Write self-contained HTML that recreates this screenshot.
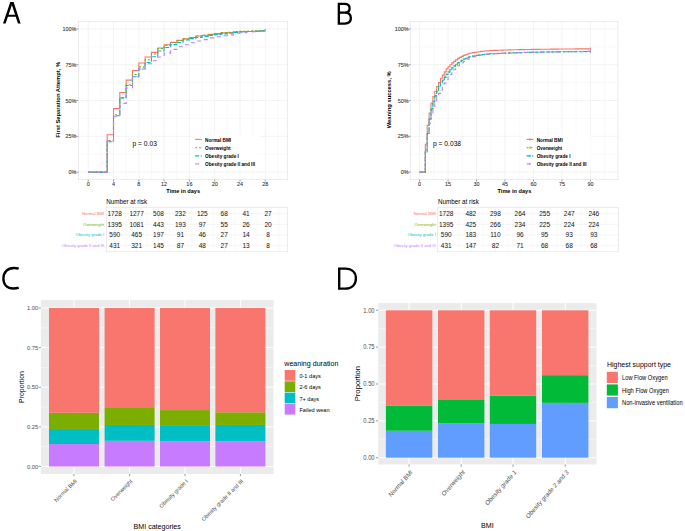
<!DOCTYPE html>
<html><head><meta charset="utf-8"><style>html,body{margin:0;padding:0;background:#fff;width:685px;height:531px;overflow:hidden;font-family:"Liberation Sans",sans-serif}</style></head><body>
<svg width="685" height="531" viewBox="0 0 685 531" style="position:absolute;left:0;top:0" font-family='"Liberation Sans", sans-serif'>
<rect x="0.00" y="0.00" width="685.00" height="531.00" fill="#fff" />
<path d="M3.00,23.6 L10.30,2.0 L13.60,2.0 L20.60,23.6 L17.95,23.6 L15.75,16.8 L7.90,16.8 L5.60,23.6 Z M8.61,14.7 L15.07,14.7 L11.90,4.95 Z" fill="#000" fill-rule="evenodd"/>
<g fill="none" stroke="#000" stroke-width="2.35" stroke-linejoin="miter">
<path d="M338.85,12.6 L338.85,3.85 L344.6,3.85 C347.9,3.85 349.6,5.6 349.6,8.2 C349.6,10.8 347.8,12.6 344.8,12.6 L338.85,12.6 M344.8,12.6 C348.8,12.6 350.85,14.9 350.85,18 C350.85,21.4 348.6,23.55 344.8,23.55 L338.85,23.55 L338.85,12.6"/>
<path d="M18.7,268.7 C17.3,268.1 15.6,267.95 13.7,267.95 C7.7,267.95 3.4,272.3 3.4,278.4 C3.4,284.7 7.3,288.5 13.3,288.5 C15.3,288.5 17.3,288.2 18.7,287.6"/>
<path d="M339.2,278.6 L339.2,268.6 L345.3,268.6 C351.9,268.6 355.9,272.4 355.9,278.4 C355.9,284.6 351.8,288.6 345.1,288.6 L339.2,288.6 L339.2,278.6"/>
</g>
<rect x="78.30" y="21.30" width="209.40" height="158.40" fill="#fff" />
<line x1="100.85" y1="21.30" x2="100.85" y2="179.70" stroke="#F2F2F2" stroke-width="0.5" />
<line x1="126.15" y1="21.30" x2="126.15" y2="179.70" stroke="#F2F2F2" stroke-width="0.5" />
<line x1="151.45" y1="21.30" x2="151.45" y2="179.70" stroke="#F2F2F2" stroke-width="0.5" />
<line x1="176.75" y1="21.30" x2="176.75" y2="179.70" stroke="#F2F2F2" stroke-width="0.5" />
<line x1="202.05" y1="21.30" x2="202.05" y2="179.70" stroke="#F2F2F2" stroke-width="0.5" />
<line x1="227.35" y1="21.30" x2="227.35" y2="179.70" stroke="#F2F2F2" stroke-width="0.5" />
<line x1="252.65" y1="21.30" x2="252.65" y2="179.70" stroke="#F2F2F2" stroke-width="0.5" />
<line x1="277.95" y1="21.30" x2="277.95" y2="179.70" stroke="#F2F2F2" stroke-width="0.5" />
<line x1="78.30" y1="154.20" x2="287.70" y2="154.20" stroke="#F2F2F2" stroke-width="0.5" />
<line x1="78.30" y1="118.40" x2="287.70" y2="118.40" stroke="#F2F2F2" stroke-width="0.5" />
<line x1="78.30" y1="82.60" x2="287.70" y2="82.60" stroke="#F2F2F2" stroke-width="0.5" />
<line x1="78.30" y1="46.80" x2="287.70" y2="46.80" stroke="#F2F2F2" stroke-width="0.5" />
<line x1="88.20" y1="21.30" x2="88.20" y2="179.70" stroke="#EBEBEB" stroke-width="0.6" />
<line x1="113.50" y1="21.30" x2="113.50" y2="179.70" stroke="#EBEBEB" stroke-width="0.6" />
<line x1="138.80" y1="21.30" x2="138.80" y2="179.70" stroke="#EBEBEB" stroke-width="0.6" />
<line x1="164.10" y1="21.30" x2="164.10" y2="179.70" stroke="#EBEBEB" stroke-width="0.6" />
<line x1="189.40" y1="21.30" x2="189.40" y2="179.70" stroke="#EBEBEB" stroke-width="0.6" />
<line x1="214.70" y1="21.30" x2="214.70" y2="179.70" stroke="#EBEBEB" stroke-width="0.6" />
<line x1="240.00" y1="21.30" x2="240.00" y2="179.70" stroke="#EBEBEB" stroke-width="0.6" />
<line x1="265.30" y1="21.30" x2="265.30" y2="179.70" stroke="#EBEBEB" stroke-width="0.6" />
<line x1="78.30" y1="172.10" x2="287.70" y2="172.10" stroke="#EBEBEB" stroke-width="0.6" />
<line x1="78.30" y1="136.30" x2="287.70" y2="136.30" stroke="#EBEBEB" stroke-width="0.6" />
<line x1="78.30" y1="100.50" x2="287.70" y2="100.50" stroke="#EBEBEB" stroke-width="0.6" />
<line x1="78.30" y1="64.70" x2="287.70" y2="64.70" stroke="#EBEBEB" stroke-width="0.6" />
<line x1="78.30" y1="28.90" x2="287.70" y2="28.90" stroke="#EBEBEB" stroke-width="0.6" />
<rect x="78.30" y="21.30" width="209.40" height="158.40" fill="none" stroke="#E0E0E0" stroke-width="0.6"/>
<line x1="76.50" y1="172.10" x2="78.30" y2="172.10" stroke="#333" stroke-width="0.5" />
<text transform="translate(76.40,172.10) scale(1,1.05)" y="1.95" font-size="5.45" text-anchor="end" font-weight="normal" fill="#2A2A2A" stroke="#3A3A3A" stroke-width="0.08">0%</text>
<line x1="76.50" y1="136.30" x2="78.30" y2="136.30" stroke="#333" stroke-width="0.5" />
<text transform="translate(76.40,136.30) scale(1,1.05)" y="1.95" font-size="5.45" text-anchor="end" font-weight="normal" fill="#2A2A2A" stroke="#3A3A3A" stroke-width="0.08">25%</text>
<line x1="76.50" y1="100.50" x2="78.30" y2="100.50" stroke="#333" stroke-width="0.5" />
<text transform="translate(76.40,100.50) scale(1,1.05)" y="1.95" font-size="5.45" text-anchor="end" font-weight="normal" fill="#2A2A2A" stroke="#3A3A3A" stroke-width="0.08">50%</text>
<line x1="76.50" y1="64.70" x2="78.30" y2="64.70" stroke="#333" stroke-width="0.5" />
<text transform="translate(76.40,64.70) scale(1,1.05)" y="1.95" font-size="5.45" text-anchor="end" font-weight="normal" fill="#2A2A2A" stroke="#3A3A3A" stroke-width="0.08">75%</text>
<line x1="76.50" y1="28.90" x2="78.30" y2="28.90" stroke="#333" stroke-width="0.5" />
<text transform="translate(76.40,28.90) scale(1,1.05)" y="1.95" font-size="5.45" text-anchor="end" font-weight="normal" fill="#2A2A2A" stroke="#3A3A3A" stroke-width="0.08">100%</text>
<line x1="88.20" y1="179.70" x2="88.20" y2="181.50" stroke="#333" stroke-width="0.5" />
<text transform="translate(88.20,184.40) scale(1,1.05)" y="1.95" font-size="5.45" text-anchor="middle" font-weight="normal" fill="#2A2A2A" stroke="#3A3A3A" stroke-width="0.08">0</text>
<line x1="113.50" y1="179.70" x2="113.50" y2="181.50" stroke="#333" stroke-width="0.5" />
<text transform="translate(113.50,184.40) scale(1,1.05)" y="1.95" font-size="5.45" text-anchor="middle" font-weight="normal" fill="#2A2A2A" stroke="#3A3A3A" stroke-width="0.08">4</text>
<line x1="138.80" y1="179.70" x2="138.80" y2="181.50" stroke="#333" stroke-width="0.5" />
<text transform="translate(138.80,184.40) scale(1,1.05)" y="1.95" font-size="5.45" text-anchor="middle" font-weight="normal" fill="#2A2A2A" stroke="#3A3A3A" stroke-width="0.08">8</text>
<line x1="164.10" y1="179.70" x2="164.10" y2="181.50" stroke="#333" stroke-width="0.5" />
<text transform="translate(164.10,184.40) scale(1,1.05)" y="1.95" font-size="5.45" text-anchor="middle" font-weight="normal" fill="#2A2A2A" stroke="#3A3A3A" stroke-width="0.08">12</text>
<line x1="189.40" y1="179.70" x2="189.40" y2="181.50" stroke="#333" stroke-width="0.5" />
<text transform="translate(189.40,184.40) scale(1,1.05)" y="1.95" font-size="5.45" text-anchor="middle" font-weight="normal" fill="#2A2A2A" stroke="#3A3A3A" stroke-width="0.08">16</text>
<line x1="214.70" y1="179.70" x2="214.70" y2="181.50" stroke="#333" stroke-width="0.5" />
<text transform="translate(214.70,184.40) scale(1,1.05)" y="1.95" font-size="5.45" text-anchor="middle" font-weight="normal" fill="#2A2A2A" stroke="#3A3A3A" stroke-width="0.08">20</text>
<line x1="240.00" y1="179.70" x2="240.00" y2="181.50" stroke="#333" stroke-width="0.5" />
<text transform="translate(240.00,184.40) scale(1,1.05)" y="1.95" font-size="5.45" text-anchor="middle" font-weight="normal" fill="#2A2A2A" stroke="#3A3A3A" stroke-width="0.08">24</text>
<line x1="265.30" y1="179.70" x2="265.30" y2="181.50" stroke="#333" stroke-width="0.5" />
<text transform="translate(265.30,184.40) scale(1,1.05)" y="1.95" font-size="5.45" text-anchor="middle" font-weight="normal" fill="#2A2A2A" stroke="#3A3A3A" stroke-width="0.08">28</text>
<path d="M88.20,172.10 L107.18,172.10 L107.18,134.72 L113.50,134.72 L113.50,108.66 L119.83,108.66 L119.83,92.48 L126.15,92.48 L126.15,80.17 L132.47,80.17 L132.47,70.57 L138.80,70.57 L138.80,62.98 L145.12,62.98 L145.12,56.97 L151.45,56.97 L151.45,52.38 L157.78,52.38 L157.78,47.95 L164.10,47.95 L164.10,44.80 L170.43,44.80 L170.43,42.36 L176.75,42.36 L176.75,40.36 L183.07,40.36 L183.07,38.92 L189.40,38.92 L189.40,37.49 L195.73,37.49 L195.73,36.06 L202.05,36.06 L202.05,35.20 L208.38,35.20 L208.38,34.34 L214.70,34.34 L214.70,33.63 L221.03,33.63 L221.03,32.91 L227.35,32.91 L227.35,32.48 L233.68,32.48 L233.68,32.05 L240.00,32.05 L240.00,31.76 L246.32,31.76 L246.32,31.48 L252.65,31.48 L252.65,31.19 L258.98,31.19 L258.98,30.90 L265.30,30.90 L265.30,30.33" fill="none" stroke="#F8766D" stroke-width="1.1" />
<path d="M88.20,172.10 L107.18,172.10 L107.18,140.60 L113.50,140.60 L113.50,114.82 L119.83,114.82 L119.83,97.64 L126.15,97.64 L126.15,84.75 L132.47,84.75 L132.47,74.44 L138.80,74.44 L138.80,66.85 L145.12,66.85 L145.12,59.69 L151.45,59.69 L151.45,53.96 L157.78,53.96 L157.78,48.66 L164.10,48.66 L164.10,45.37 L170.43,45.37 L170.43,42.79 L176.75,42.79 L176.75,40.79 L183.07,40.79 L183.07,38.92 L189.40,38.92 L189.40,37.49 L195.73,37.49 L195.73,36.06 L202.05,36.06 L202.05,35.20 L208.38,35.20 L208.38,34.48 L214.70,34.48 L214.70,33.63 L221.03,33.63 L221.03,32.91 L227.35,32.91 L227.35,32.34 L233.68,32.34 L233.68,31.62 L240.00,31.62 L240.00,31.33 L246.32,31.33 L246.32,31.05 L252.65,31.05 L252.65,30.90 L258.98,30.90 L258.98,30.76 L265.30,30.76 L265.30,30.33" fill="none" stroke="#7CAE00" stroke-width="1.1" stroke-dasharray="2 2"/>
<path d="M88.20,172.10 L107.18,172.10 L107.18,141.74 L113.50,141.74 L113.50,115.82 L119.83,115.82 L119.83,97.92 L126.15,97.92 L126.15,85.46 L132.47,85.46 L132.47,76.73 L138.80,76.73 L138.80,69.00 L145.12,69.00 L145.12,62.55 L151.45,62.55 L151.45,56.82 L157.78,56.82 L157.78,50.95 L164.10,50.95 L164.10,47.52 L170.43,47.52 L170.43,44.65 L176.75,44.65 L176.75,42.50 L183.07,42.50 L183.07,40.07 L189.40,40.07 L189.40,38.64 L195.73,38.64 L195.73,37.49 L202.05,37.49 L202.05,36.49 L208.38,36.49 L208.38,35.49 L214.70,35.49 L214.70,34.63 L221.03,34.63 L221.03,33.91 L227.35,33.91 L227.35,33.20 L233.68,33.20 L233.68,32.34 L240.00,32.34 L240.00,31.91 L246.32,31.91 L246.32,31.48 L252.65,31.48 L252.65,31.19 L258.98,31.19 L258.98,30.90 L265.30,30.90 L265.30,28.90" fill="none" stroke="#00BFC4" stroke-width="1.1" stroke-dasharray="3.9 1.7"/>
<path d="M88.20,172.10 L107.18,172.10 L107.18,140.60 L113.50,140.60 L113.50,116.68 L119.83,116.68 L119.83,103.36 L126.15,103.36 L126.15,88.04 L132.47,88.04 L132.47,77.02 L138.80,77.02 L138.80,69.00 L145.12,69.00 L145.12,63.70 L151.45,63.70 L151.45,60.69 L157.78,60.69 L157.78,56.97 L164.10,56.97 L164.10,53.10 L170.43,53.10 L170.43,49.38 L176.75,49.38 L176.75,46.80 L183.07,46.80 L183.07,44.80 L189.40,44.80 L189.40,42.79 L195.73,42.79 L195.73,41.07 L202.05,41.07 L202.05,39.64 L208.38,39.64 L208.38,37.92 L214.70,37.92 L214.70,36.78 L221.03,36.78 L221.03,35.77 L227.35,35.77 L227.35,34.91 L233.68,34.91 L233.68,33.20 L240.00,33.20 L240.00,32.62 L246.32,32.62 L246.32,32.05 L252.65,32.05 L252.65,31.62 L258.98,31.62 L258.98,31.33 L265.30,31.33 L265.30,29.62" fill="none" stroke="#C77CFF" stroke-width="1.1" stroke-dasharray="4 4"/>
<rect x="191.50" y="135.00" width="67.00" height="33.50" fill="#fff" />
<line x1="195.10" y1="139.40" x2="201.80" y2="139.40" stroke="#F8766D" stroke-width="1.1" />
<text transform="translate(205.10,139.80) scale(1,1.05)" y="1.68" font-size="4.7" text-anchor="start" font-weight="bold" fill="#000" >Normal BMI</text>
<line x1="195.10" y1="147.70" x2="201.80" y2="147.70" stroke="#7CAE00" stroke-width="1.1" stroke-dasharray="2 2"/>
<text transform="translate(205.10,147.80) scale(1,1.05)" y="1.68" font-size="4.7" text-anchor="start" font-weight="bold" fill="#000" >Overweight</text>
<line x1="195.10" y1="155.90" x2="201.80" y2="155.90" stroke="#00BFC4" stroke-width="1.1" stroke-dasharray="3.9 1.7"/>
<text transform="translate(205.10,155.90) scale(1,1.05)" y="1.68" font-size="4.7" text-anchor="start" font-weight="bold" fill="#000" >Obesity grade I</text>
<line x1="195.10" y1="163.90" x2="201.80" y2="163.90" stroke="#C77CFF" stroke-width="1.1" stroke-dasharray="4 9"/>
<text transform="translate(205.10,163.90) scale(1,1.05)" y="1.68" font-size="4.7" text-anchor="start" font-weight="bold" fill="#000" >Obesity grade II and III</text>
<text transform="translate(132.50,143.90) scale(1,1.05)" y="2.40" font-size="6.7" text-anchor="start" font-weight="normal" fill="#000" >p = 0.03</text>
<text transform="translate(183.20,190.80) scale(1,1.05)" y="2.00" font-size="5.6" text-anchor="middle" font-weight="bold" fill="#000" >Time in days</text>
<text transform="translate(57.5,99.8) rotate(-90)" font-size="5.8" font-weight="bold" text-anchor="middle" y="2.07">First Separation Attempt, %</text>
<rect x="410.50" y="21.30" width="207.50" height="158.40" fill="#fff" />
<line x1="433.84" y1="21.30" x2="433.84" y2="179.70" stroke="#F2F2F2" stroke-width="0.5" />
<line x1="462.31" y1="21.30" x2="462.31" y2="179.70" stroke="#F2F2F2" stroke-width="0.5" />
<line x1="490.78" y1="21.30" x2="490.78" y2="179.70" stroke="#F2F2F2" stroke-width="0.5" />
<line x1="519.25" y1="21.30" x2="519.25" y2="179.70" stroke="#F2F2F2" stroke-width="0.5" />
<line x1="547.72" y1="21.30" x2="547.72" y2="179.70" stroke="#F2F2F2" stroke-width="0.5" />
<line x1="576.18" y1="21.30" x2="576.18" y2="179.70" stroke="#F2F2F2" stroke-width="0.5" />
<line x1="604.65" y1="21.30" x2="604.65" y2="179.70" stroke="#F2F2F2" stroke-width="0.5" />
<line x1="410.50" y1="154.20" x2="618.00" y2="154.20" stroke="#F2F2F2" stroke-width="0.5" />
<line x1="410.50" y1="118.40" x2="618.00" y2="118.40" stroke="#F2F2F2" stroke-width="0.5" />
<line x1="410.50" y1="82.60" x2="618.00" y2="82.60" stroke="#F2F2F2" stroke-width="0.5" />
<line x1="410.50" y1="46.80" x2="618.00" y2="46.80" stroke="#F2F2F2" stroke-width="0.5" />
<line x1="419.60" y1="21.30" x2="419.60" y2="179.70" stroke="#EBEBEB" stroke-width="0.6" />
<line x1="448.07" y1="21.30" x2="448.07" y2="179.70" stroke="#EBEBEB" stroke-width="0.6" />
<line x1="476.54" y1="21.30" x2="476.54" y2="179.70" stroke="#EBEBEB" stroke-width="0.6" />
<line x1="505.01" y1="21.30" x2="505.01" y2="179.70" stroke="#EBEBEB" stroke-width="0.6" />
<line x1="533.48" y1="21.30" x2="533.48" y2="179.70" stroke="#EBEBEB" stroke-width="0.6" />
<line x1="561.95" y1="21.30" x2="561.95" y2="179.70" stroke="#EBEBEB" stroke-width="0.6" />
<line x1="590.42" y1="21.30" x2="590.42" y2="179.70" stroke="#EBEBEB" stroke-width="0.6" />
<line x1="410.50" y1="172.10" x2="618.00" y2="172.10" stroke="#EBEBEB" stroke-width="0.6" />
<line x1="410.50" y1="136.30" x2="618.00" y2="136.30" stroke="#EBEBEB" stroke-width="0.6" />
<line x1="410.50" y1="100.50" x2="618.00" y2="100.50" stroke="#EBEBEB" stroke-width="0.6" />
<line x1="410.50" y1="64.70" x2="618.00" y2="64.70" stroke="#EBEBEB" stroke-width="0.6" />
<line x1="410.50" y1="28.90" x2="618.00" y2="28.90" stroke="#EBEBEB" stroke-width="0.6" />
<rect x="410.50" y="21.30" width="207.50" height="158.40" fill="none" stroke="#E0E0E0" stroke-width="0.6"/>
<line x1="408.70" y1="172.10" x2="410.50" y2="172.10" stroke="#333" stroke-width="0.5" />
<text transform="translate(408.60,172.10) scale(1,1.05)" y="1.95" font-size="5.45" text-anchor="end" font-weight="normal" fill="#2A2A2A" stroke="#3A3A3A" stroke-width="0.08">0%</text>
<line x1="408.70" y1="136.30" x2="410.50" y2="136.30" stroke="#333" stroke-width="0.5" />
<text transform="translate(408.60,136.30) scale(1,1.05)" y="1.95" font-size="5.45" text-anchor="end" font-weight="normal" fill="#2A2A2A" stroke="#3A3A3A" stroke-width="0.08">25%</text>
<line x1="408.70" y1="100.50" x2="410.50" y2="100.50" stroke="#333" stroke-width="0.5" />
<text transform="translate(408.60,100.50) scale(1,1.05)" y="1.95" font-size="5.45" text-anchor="end" font-weight="normal" fill="#2A2A2A" stroke="#3A3A3A" stroke-width="0.08">50%</text>
<line x1="408.70" y1="64.70" x2="410.50" y2="64.70" stroke="#333" stroke-width="0.5" />
<text transform="translate(408.60,64.70) scale(1,1.05)" y="1.95" font-size="5.45" text-anchor="end" font-weight="normal" fill="#2A2A2A" stroke="#3A3A3A" stroke-width="0.08">75%</text>
<line x1="408.70" y1="28.90" x2="410.50" y2="28.90" stroke="#333" stroke-width="0.5" />
<text transform="translate(408.60,28.90) scale(1,1.05)" y="1.95" font-size="5.45" text-anchor="end" font-weight="normal" fill="#2A2A2A" stroke="#3A3A3A" stroke-width="0.08">100%</text>
<line x1="419.60" y1="179.70" x2="419.60" y2="181.50" stroke="#333" stroke-width="0.5" />
<text transform="translate(419.60,184.40) scale(1,1.05)" y="1.95" font-size="5.45" text-anchor="middle" font-weight="normal" fill="#2A2A2A" stroke="#3A3A3A" stroke-width="0.08">0</text>
<line x1="448.07" y1="179.70" x2="448.07" y2="181.50" stroke="#333" stroke-width="0.5" />
<text transform="translate(448.07,184.40) scale(1,1.05)" y="1.95" font-size="5.45" text-anchor="middle" font-weight="normal" fill="#2A2A2A" stroke="#3A3A3A" stroke-width="0.08">15</text>
<line x1="476.54" y1="179.70" x2="476.54" y2="181.50" stroke="#333" stroke-width="0.5" />
<text transform="translate(476.54,184.40) scale(1,1.05)" y="1.95" font-size="5.45" text-anchor="middle" font-weight="normal" fill="#2A2A2A" stroke="#3A3A3A" stroke-width="0.08">30</text>
<line x1="505.01" y1="179.70" x2="505.01" y2="181.50" stroke="#333" stroke-width="0.5" />
<text transform="translate(505.01,184.40) scale(1,1.05)" y="1.95" font-size="5.45" text-anchor="middle" font-weight="normal" fill="#2A2A2A" stroke="#3A3A3A" stroke-width="0.08">45</text>
<line x1="533.48" y1="179.70" x2="533.48" y2="181.50" stroke="#333" stroke-width="0.5" />
<text transform="translate(533.48,184.40) scale(1,1.05)" y="1.95" font-size="5.45" text-anchor="middle" font-weight="normal" fill="#2A2A2A" stroke="#3A3A3A" stroke-width="0.08">60</text>
<line x1="561.95" y1="179.70" x2="561.95" y2="181.50" stroke="#333" stroke-width="0.5" />
<text transform="translate(561.95,184.40) scale(1,1.05)" y="1.95" font-size="5.45" text-anchor="middle" font-weight="normal" fill="#2A2A2A" stroke="#3A3A3A" stroke-width="0.08">75</text>
<line x1="590.42" y1="179.70" x2="590.42" y2="181.50" stroke="#333" stroke-width="0.5" />
<text transform="translate(590.42,184.40) scale(1,1.05)" y="1.95" font-size="5.45" text-anchor="middle" font-weight="normal" fill="#2A2A2A" stroke="#3A3A3A" stroke-width="0.08">90</text>
<path d="M419.60,172.10 L425.29,172.10 L425.29,144.18 L427.19,144.18 L427.19,125.42 L429.09,125.42 L429.09,112.96 L430.99,112.96 L430.99,102.93 L432.89,102.93 L432.89,96.49 L434.78,96.49 L434.78,91.19 L436.68,91.19 L436.68,86.47 L438.58,86.47 L438.58,82.60 L440.48,82.60 L440.48,78.30 L442.38,78.30 L442.38,75.11 L444.27,75.11 L444.27,71.91 L446.17,71.91 L446.17,68.71 L448.07,68.71 L448.07,66.75 L449.97,66.75 L449.97,64.80 L451.87,64.80 L451.87,62.84 L453.76,62.84 L453.76,61.36 L455.66,61.36 L455.66,59.88 L457.56,59.88 L457.56,58.40 L459.46,58.40 L459.46,57.40 L461.36,57.40 L461.36,56.39 L463.25,56.39 L463.25,55.39 L465.15,55.39 L465.15,54.68 L467.05,54.68 L467.05,53.96 L468.95,53.96 L468.95,53.24 L470.85,53.24 L470.85,52.93 L472.74,52.93 L472.74,52.62 L474.64,52.62 L474.64,52.31 L476.54,52.31 L476.54,52.00 L478.44,52.00 L478.44,51.69 L480.34,51.69 L480.34,51.38 L482.23,51.38 L482.23,51.21 L484.13,51.21 L484.13,51.04 L486.03,51.04 L486.03,50.87 L487.93,50.87 L487.93,50.70 L489.83,50.70 L489.83,50.52 L491.72,50.52 L491.72,50.46 L493.62,50.46 L493.62,50.39 L495.52,50.39 L495.52,50.33 L497.42,50.33 L497.42,50.26 L499.32,50.26 L499.32,50.20 L501.21,50.20 L501.21,50.13 L503.11,50.13 L503.11,50.07 L505.01,50.07 L505.01,50.00 L506.91,50.00 L506.91,49.94 L508.81,49.94 L508.81,49.87 L510.70,49.87 L510.70,49.81 L512.60,49.81 L512.60,49.77 L514.50,49.77 L514.50,49.74 L516.40,49.74 L516.40,49.70 L518.30,49.70 L518.30,49.66 L520.19,49.66 L520.19,49.63 L522.09,49.63 L522.09,49.59 L523.99,49.59 L523.99,49.56 L525.89,49.56 L525.89,49.52 L527.79,49.52 L527.79,49.48 L529.68,49.48 L529.68,49.45 L531.58,49.45 L531.58,49.41 L533.48,49.41 L533.48,49.38 L535.38,49.38 L535.38,49.35 L537.28,49.35 L537.28,49.33 L539.17,49.33 L539.17,49.31 L541.07,49.31 L541.07,49.28 L542.97,49.28 L542.97,49.26 L544.87,49.26 L544.87,49.23 L546.77,49.23 L546.77,49.21 L548.66,49.21 L548.66,49.19 L550.56,49.19 L550.56,49.16 L552.46,49.16 L552.46,49.14 L554.36,49.14 L554.36,49.12 L556.26,49.12 L556.26,49.09 L558.15,49.09 L558.15,49.07 L560.05,49.07 L560.05,49.04 L561.95,49.04 L561.95,49.02 L563.85,49.02 L563.85,49.01 L565.75,49.01 L565.75,48.99 L567.64,48.99 L567.64,48.98 L569.54,48.98 L569.54,48.96 L571.44,48.96 L571.44,48.95 L573.34,48.95 L573.34,48.93 L575.24,48.93 L575.24,48.92 L577.13,48.92 L577.13,48.91 L579.03,48.91 L579.03,48.89 L580.93,48.89 L580.93,48.88 L582.83,48.88 L582.83,48.86 L584.73,48.86 L584.73,48.85 L586.62,48.85 L586.62,48.83 L588.52,48.83 L588.52,48.82 L590.42,48.82 L590.42,48.80 L590.42,48.80" fill="none" stroke="#F8766D" stroke-width="1.1" />
<line x1="590.42" y1="47.50" x2="590.42" y2="50.10" stroke="#F8766D" stroke-width="0.9" />
<path d="M419.60,172.10 L425.29,172.10 L425.29,149.90 L427.19,149.90 L427.19,132.00 L429.09,132.00 L429.09,118.40 L430.99,118.40 L430.99,108.38 L432.89,108.38 L432.89,101.22 L434.78,101.22 L434.78,95.49 L436.68,95.49 L436.68,90.48 L438.58,90.48 L438.58,86.18 L440.48,86.18 L440.48,82.60 L442.38,82.60 L442.38,79.74 L444.27,79.74 L444.27,76.87 L446.17,76.87 L446.17,74.01 L448.07,74.01 L448.07,71.86 L449.97,71.86 L449.97,69.71 L451.87,69.71 L451.87,67.56 L453.76,67.56 L453.76,65.89 L455.66,65.89 L455.66,64.22 L457.56,64.22 L457.56,62.55 L459.46,62.55 L459.46,61.36 L461.36,61.36 L461.36,60.17 L463.25,60.17 L463.25,58.97 L465.15,58.97 L465.15,58.21 L467.05,58.21 L467.05,57.44 L468.95,57.44 L468.95,56.68 L470.85,56.68 L470.85,56.35 L472.74,56.35 L472.74,56.01 L474.64,56.01 L474.64,55.68 L476.54,55.68 L476.54,55.34 L478.44,55.34 L478.44,55.01 L480.34,55.01 L480.34,54.68 L482.23,54.68 L482.23,54.48 L484.13,54.48 L484.13,54.28 L486.03,54.28 L486.03,54.07 L487.93,54.07 L487.93,53.87 L489.83,53.87 L489.83,53.67 L491.72,53.67 L491.72,53.60 L493.62,53.60 L493.62,53.52 L495.52,53.52 L495.52,53.44 L497.42,53.44 L497.42,53.36 L499.32,53.36 L499.32,53.28 L501.21,53.28 L501.21,53.20 L503.11,53.20 L503.11,53.13 L505.01,53.13 L505.01,53.05 L506.91,53.05 L506.91,52.97 L508.81,52.97 L508.81,52.89 L510.70,52.89 L510.70,52.81 L512.60,52.81 L512.60,52.75 L514.50,52.75 L514.50,52.70 L516.40,52.70 L516.40,52.64 L518.30,52.64 L518.30,52.58 L520.19,52.58 L520.19,52.52 L522.09,52.52 L522.09,52.46 L523.99,52.46 L523.99,52.40 L525.89,52.40 L525.89,52.34 L527.79,52.34 L527.79,52.28 L529.68,52.28 L529.68,52.22 L531.58,52.22 L531.58,52.16 L533.48,52.16 L533.48,52.10 L535.38,52.10 L535.38,52.07 L537.28,52.07 L537.28,52.04 L539.17,52.04 L539.17,52.01 L541.07,52.01 L541.07,51.98 L542.97,51.98 L542.97,51.96 L544.87,51.96 L544.87,51.93 L546.77,51.93 L546.77,51.90 L548.66,51.90 L548.66,51.87 L550.56,51.87 L550.56,51.84 L552.46,51.84 L552.46,51.81 L554.36,51.81 L554.36,51.78 L556.26,51.78 L556.26,51.75 L558.15,51.75 L558.15,51.73 L560.05,51.73 L560.05,51.70 L561.95,51.70 L561.95,51.67 L563.85,51.67 L563.85,51.65 L565.75,51.65 L565.75,51.63 L567.64,51.63 L567.64,51.61 L569.54,51.61 L569.54,51.59 L571.44,51.59 L571.44,51.57 L573.34,51.57 L573.34,51.55 L575.24,51.55 L575.24,51.54 L577.13,51.54 L577.13,51.52 L579.03,51.52 L579.03,51.50 L580.93,51.50 L580.93,51.48 L582.83,51.48 L582.83,51.46 L584.73,51.46 L584.73,51.44 L586.62,51.44 L586.62,51.42 L588.52,51.42 L588.52,51.40 L590.42,51.40 L590.42,51.38 L590.42,51.38" fill="none" stroke="#7CAE00" stroke-width="1.1" stroke-dasharray="2 2"/>
<line x1="590.42" y1="50.08" x2="590.42" y2="52.68" stroke="#7CAE00" stroke-width="0.9" />
<path d="M419.60,172.10 L425.29,172.10 L425.29,151.34 L427.19,151.34 L427.19,133.44 L429.09,133.44 L429.09,119.12 L430.99,119.12 L430.99,109.09 L432.89,109.09 L432.89,101.93 L434.78,101.93 L434.78,96.20 L436.68,96.20 L436.68,91.19 L438.58,91.19 L438.58,86.90 L440.48,86.90 L440.48,83.32 L442.38,83.32 L442.38,80.36 L444.27,80.36 L444.27,77.40 L446.17,77.40 L446.17,74.44 L448.07,74.44 L448.07,72.29 L449.97,72.29 L449.97,70.14 L451.87,70.14 L451.87,67.99 L453.76,67.99 L453.76,66.28 L455.66,66.28 L455.66,64.56 L457.56,64.56 L457.56,62.84 L459.46,62.84 L459.46,61.65 L461.36,61.65 L461.36,60.45 L463.25,60.45 L463.25,59.26 L465.15,59.26 L465.15,58.45 L467.05,58.45 L467.05,57.64 L468.95,57.64 L468.95,56.82 L470.85,56.82 L470.85,56.49 L472.74,56.49 L472.74,56.16 L474.64,56.16 L474.64,55.82 L476.54,55.82 L476.54,55.49 L478.44,55.49 L478.44,55.15 L480.34,55.15 L480.34,54.82 L482.23,54.82 L482.23,54.62 L484.13,54.62 L484.13,54.42 L486.03,54.42 L486.03,54.22 L487.93,54.22 L487.93,54.02 L489.83,54.02 L489.83,53.82 L491.72,53.82 L491.72,53.74 L493.62,53.74 L493.62,53.66 L495.52,53.66 L495.52,53.58 L497.42,53.58 L497.42,53.50 L499.32,53.50 L499.32,53.43 L501.21,53.43 L501.21,53.35 L503.11,53.35 L503.11,53.27 L505.01,53.27 L505.01,53.19 L506.91,53.19 L506.91,53.11 L508.81,53.11 L508.81,53.04 L510.70,53.04 L510.70,52.96 L512.60,52.96 L512.60,52.90 L514.50,52.90 L514.50,52.84 L516.40,52.84 L516.40,52.78 L518.30,52.78 L518.30,52.72 L520.19,52.72 L520.19,52.66 L522.09,52.66 L522.09,52.60 L523.99,52.60 L523.99,52.54 L525.89,52.54 L525.89,52.48 L527.79,52.48 L527.79,52.42 L529.68,52.42 L529.68,52.36 L531.58,52.36 L531.58,52.30 L533.48,52.30 L533.48,52.24 L535.38,52.24 L535.38,52.21 L537.28,52.21 L537.28,52.18 L539.17,52.18 L539.17,52.16 L541.07,52.16 L541.07,52.13 L542.97,52.13 L542.97,52.10 L544.87,52.10 L544.87,52.07 L546.77,52.07 L546.77,52.04 L548.66,52.04 L548.66,52.01 L550.56,52.01 L550.56,51.98 L552.46,51.98 L552.46,51.96 L554.36,51.96 L554.36,51.93 L556.26,51.93 L556.26,51.90 L558.15,51.90 L558.15,51.87 L560.05,51.87 L560.05,51.84 L561.95,51.84 L561.95,51.81 L563.85,51.81 L563.85,51.79 L565.75,51.79 L565.75,51.77 L567.64,51.77 L567.64,51.75 L569.54,51.75 L569.54,51.74 L571.44,51.74 L571.44,51.72 L573.34,51.72 L573.34,51.70 L575.24,51.70 L575.24,51.68 L577.13,51.68 L577.13,51.66 L579.03,51.66 L579.03,51.64 L580.93,51.64 L580.93,51.62 L582.83,51.62 L582.83,51.60 L584.73,51.60 L584.73,51.58 L586.62,51.58 L586.62,51.56 L588.52,51.56 L588.52,51.54 L590.42,51.54 L590.42,51.53 L590.42,51.53" fill="none" stroke="#00BFC4" stroke-width="1.1" stroke-dasharray="3.9 1.7"/>
<line x1="590.42" y1="50.23" x2="590.42" y2="52.83" stroke="#00BFC4" stroke-width="0.9" />
<path d="M419.60,172.10 L425.29,172.10 L425.29,152.05 L427.19,152.05 L427.19,135.58 L429.09,135.58 L429.09,123.41 L430.99,123.41 L430.99,114.82 L432.89,114.82 L432.89,107.66 L434.78,107.66 L434.78,101.93 L436.68,101.93 L436.68,97.21 L438.58,97.21 L438.58,93.34 L440.48,93.34 L440.48,90.05 L442.38,90.05 L442.38,86.61 L444.27,86.61 L444.27,83.17 L446.17,83.17 L446.17,79.74 L448.07,79.74 L448.07,77.11 L449.97,77.11 L449.97,74.49 L451.87,74.49 L451.87,71.86 L453.76,71.86 L453.76,69.81 L455.66,69.81 L455.66,67.75 L457.56,67.75 L457.56,65.70 L459.46,65.70 L459.46,64.27 L461.36,64.27 L461.36,62.84 L463.25,62.84 L463.25,61.41 L465.15,61.41 L465.15,60.26 L467.05,60.26 L467.05,59.12 L468.95,59.12 L468.95,57.97 L470.85,57.97 L470.85,57.47 L472.74,57.47 L472.74,56.97 L474.64,56.97 L474.64,56.47 L476.54,56.47 L476.54,55.96 L478.44,55.96 L478.44,55.46 L480.34,55.46 L480.34,54.96 L482.23,54.96 L482.23,54.73 L484.13,54.73 L484.13,54.50 L486.03,54.50 L486.03,54.28 L487.93,54.28 L487.93,54.05 L489.83,54.05 L489.83,53.82 L491.72,53.82 L491.72,53.74 L493.62,53.74 L493.62,53.66 L495.52,53.66 L495.52,53.58 L497.42,53.58 L497.42,53.50 L499.32,53.50 L499.32,53.43 L501.21,53.43 L501.21,53.35 L503.11,53.35 L503.11,53.27 L505.01,53.27 L505.01,53.19 L506.91,53.19 L506.91,53.11 L508.81,53.11 L508.81,53.04 L510.70,53.04 L510.70,52.96 L512.60,52.96 L512.60,52.90 L514.50,52.90 L514.50,52.84 L516.40,52.84 L516.40,52.78 L518.30,52.78 L518.30,52.72 L520.19,52.72 L520.19,52.66 L522.09,52.66 L522.09,52.60 L523.99,52.60 L523.99,52.54 L525.89,52.54 L525.89,52.48 L527.79,52.48 L527.79,52.42 L529.68,52.42 L529.68,52.36 L531.58,52.36 L531.58,52.30 L533.48,52.30 L533.48,52.24 L535.38,52.24 L535.38,52.21 L537.28,52.21 L537.28,52.18 L539.17,52.18 L539.17,52.16 L541.07,52.16 L541.07,52.13 L542.97,52.13 L542.97,52.10 L544.87,52.10 L544.87,52.07 L546.77,52.07 L546.77,52.04 L548.66,52.04 L548.66,52.01 L550.56,52.01 L550.56,51.98 L552.46,51.98 L552.46,51.96 L554.36,51.96 L554.36,51.93 L556.26,51.93 L556.26,51.90 L558.15,51.90 L558.15,51.87 L560.05,51.87 L560.05,51.84 L561.95,51.84 L561.95,51.81 L563.85,51.81 L563.85,51.78 L565.75,51.78 L565.75,51.75 L567.64,51.75 L567.64,51.73 L569.54,51.73 L569.54,51.70 L571.44,51.70 L571.44,51.67 L573.34,51.67 L573.34,51.64 L575.24,51.64 L575.24,51.61 L577.13,51.61 L577.13,51.58 L579.03,51.58 L579.03,51.55 L580.93,51.55 L580.93,51.53 L582.83,51.53 L582.83,51.50 L584.73,51.50 L584.73,51.47 L586.62,51.47 L586.62,51.44 L588.52,51.44 L588.52,51.41 L590.42,51.41 L590.42,51.38 L590.42,51.38" fill="none" stroke="#C77CFF" stroke-width="1.1" stroke-dasharray="4 4"/>
<line x1="590.42" y1="50.08" x2="590.42" y2="52.68" stroke="#C77CFF" stroke-width="0.9" />
<rect x="523.50" y="135.00" width="67.00" height="33.50" fill="#fff" />
<line x1="526.60" y1="139.40" x2="533.40" y2="139.40" stroke="#F8766D" stroke-width="1.1" />
<line x1="530.00" y1="138.20" x2="530.00" y2="140.60" stroke="#F8766D" stroke-width="0.9" />
<text transform="translate(536.70,139.80) scale(1,1.05)" y="1.68" font-size="4.7" text-anchor="start" font-weight="bold" fill="#000" >Normal BMI</text>
<line x1="526.60" y1="147.70" x2="533.40" y2="147.70" stroke="#7CAE00" stroke-width="1.1" stroke-dasharray="2 2"/>
<line x1="530.00" y1="146.50" x2="530.00" y2="148.90" stroke="#7CAE00" stroke-width="0.9" />
<text transform="translate(536.70,147.80) scale(1,1.05)" y="1.68" font-size="4.7" text-anchor="start" font-weight="bold" fill="#000" >Overweight</text>
<line x1="526.60" y1="155.90" x2="533.40" y2="155.90" stroke="#00BFC4" stroke-width="1.1" stroke-dasharray="3.9 1.7"/>
<line x1="530.00" y1="154.70" x2="530.00" y2="157.10" stroke="#00BFC4" stroke-width="0.9" />
<text transform="translate(536.70,155.90) scale(1,1.05)" y="1.68" font-size="4.7" text-anchor="start" font-weight="bold" fill="#000" >Obesity grade I</text>
<line x1="526.60" y1="163.90" x2="533.40" y2="163.90" stroke="#C77CFF" stroke-width="1.1" stroke-dasharray="4 9"/>
<line x1="530.00" y1="162.70" x2="530.00" y2="165.10" stroke="#C77CFF" stroke-width="0.9" />
<text transform="translate(536.70,163.90) scale(1,1.05)" y="1.68" font-size="4.7" text-anchor="start" font-weight="bold" fill="#000" >Obesity grade II and III</text>
<text transform="translate(433.00,143.90) scale(1,1.05)" y="2.40" font-size="6.7" text-anchor="start" font-weight="normal" fill="#000" >p = 0.038</text>
<text transform="translate(514.40,190.80) scale(1,1.05)" y="2.00" font-size="5.6" text-anchor="middle" font-weight="bold" fill="#000" >Time in days</text>
<text transform="translate(389,99.8) rotate(-90)" font-size="5.8" font-weight="bold" text-anchor="middle" y="2.07">Weaning success, %</text>
<text transform="translate(106.20,201.40) scale(1,1.05)" y="2.26" font-size="6.3" text-anchor="start" font-weight="normal" fill="#000" >Number at risk</text>
<rect x="106.50" y="207.30" width="181.20" height="44.50" fill="#fff" />
<line x1="114.70" y1="207.30" x2="114.70" y2="251.80" stroke="#EBEBEB" stroke-width="0.5" />
<line x1="125.65" y1="207.30" x2="125.65" y2="251.80" stroke="#F4F4F4" stroke-width="0.5" />
<line x1="136.60" y1="207.30" x2="136.60" y2="251.80" stroke="#EBEBEB" stroke-width="0.5" />
<line x1="147.55" y1="207.30" x2="147.55" y2="251.80" stroke="#F4F4F4" stroke-width="0.5" />
<line x1="158.50" y1="207.30" x2="158.50" y2="251.80" stroke="#EBEBEB" stroke-width="0.5" />
<line x1="169.45" y1="207.30" x2="169.45" y2="251.80" stroke="#F4F4F4" stroke-width="0.5" />
<line x1="180.40" y1="207.30" x2="180.40" y2="251.80" stroke="#EBEBEB" stroke-width="0.5" />
<line x1="191.35" y1="207.30" x2="191.35" y2="251.80" stroke="#F4F4F4" stroke-width="0.5" />
<line x1="202.30" y1="207.30" x2="202.30" y2="251.80" stroke="#EBEBEB" stroke-width="0.5" />
<line x1="213.25" y1="207.30" x2="213.25" y2="251.80" stroke="#F4F4F4" stroke-width="0.5" />
<line x1="224.20" y1="207.30" x2="224.20" y2="251.80" stroke="#EBEBEB" stroke-width="0.5" />
<line x1="235.15" y1="207.30" x2="235.15" y2="251.80" stroke="#F4F4F4" stroke-width="0.5" />
<line x1="246.10" y1="207.30" x2="246.10" y2="251.80" stroke="#EBEBEB" stroke-width="0.5" />
<line x1="257.05" y1="207.30" x2="257.05" y2="251.80" stroke="#F4F4F4" stroke-width="0.5" />
<line x1="268.00" y1="207.30" x2="268.00" y2="251.80" stroke="#EBEBEB" stroke-width="0.5" />
<line x1="278.95" y1="207.30" x2="278.95" y2="251.80" stroke="#F4F4F4" stroke-width="0.5" />
<line x1="106.50" y1="213.60" x2="287.70" y2="213.60" stroke="#EBEBEB" stroke-width="0.5" />
<line x1="106.50" y1="224.30" x2="287.70" y2="224.30" stroke="#EBEBEB" stroke-width="0.5" />
<line x1="106.50" y1="234.90" x2="287.70" y2="234.90" stroke="#EBEBEB" stroke-width="0.5" />
<line x1="106.50" y1="245.30" x2="287.70" y2="245.30" stroke="#EBEBEB" stroke-width="0.5" />
<rect x="106.50" y="207.30" width="181.20" height="44.50" fill="none" stroke="#E0E0E0" stroke-width="0.6"/>
<text transform="translate(104.20,213.60) scale(1,1.05)" y="1.50" font-size="4.2" text-anchor="end" font-weight="normal" fill="#F8766D" >Normal BMI</text>
<text transform="translate(114.70,213.60) scale(1,1.05)" y="2.33" font-size="6.5" text-anchor="middle" font-weight="normal" fill="#111" >1728</text>
<text transform="translate(136.60,213.60) scale(1,1.05)" y="2.33" font-size="6.5" text-anchor="middle" font-weight="normal" fill="#111" >1277</text>
<text transform="translate(158.50,213.60) scale(1,1.05)" y="2.33" font-size="6.5" text-anchor="middle" font-weight="normal" fill="#111" >508</text>
<text transform="translate(180.40,213.60) scale(1,1.05)" y="2.33" font-size="6.5" text-anchor="middle" font-weight="normal" fill="#111" >232</text>
<text transform="translate(202.30,213.60) scale(1,1.05)" y="2.33" font-size="6.5" text-anchor="middle" font-weight="normal" fill="#111" >125</text>
<text transform="translate(224.20,213.60) scale(1,1.05)" y="2.33" font-size="6.5" text-anchor="middle" font-weight="normal" fill="#111" >68</text>
<text transform="translate(246.10,213.60) scale(1,1.05)" y="2.33" font-size="6.5" text-anchor="middle" font-weight="normal" fill="#111" >41</text>
<text transform="translate(268.00,213.60) scale(1,1.05)" y="2.33" font-size="6.5" text-anchor="middle" font-weight="normal" fill="#111" >27</text>
<text transform="translate(104.20,224.30) scale(1,1.05)" y="1.50" font-size="4.2" text-anchor="end" font-weight="normal" fill="#7CAE00" >Overweight</text>
<text transform="translate(114.70,224.30) scale(1,1.05)" y="2.33" font-size="6.5" text-anchor="middle" font-weight="normal" fill="#111" >1395</text>
<text transform="translate(136.60,224.30) scale(1,1.05)" y="2.33" font-size="6.5" text-anchor="middle" font-weight="normal" fill="#111" >1081</text>
<text transform="translate(158.50,224.30) scale(1,1.05)" y="2.33" font-size="6.5" text-anchor="middle" font-weight="normal" fill="#111" >443</text>
<text transform="translate(180.40,224.30) scale(1,1.05)" y="2.33" font-size="6.5" text-anchor="middle" font-weight="normal" fill="#111" >193</text>
<text transform="translate(202.30,224.30) scale(1,1.05)" y="2.33" font-size="6.5" text-anchor="middle" font-weight="normal" fill="#111" >97</text>
<text transform="translate(224.20,224.30) scale(1,1.05)" y="2.33" font-size="6.5" text-anchor="middle" font-weight="normal" fill="#111" >55</text>
<text transform="translate(246.10,224.30) scale(1,1.05)" y="2.33" font-size="6.5" text-anchor="middle" font-weight="normal" fill="#111" >26</text>
<text transform="translate(268.00,224.30) scale(1,1.05)" y="2.33" font-size="6.5" text-anchor="middle" font-weight="normal" fill="#111" >20</text>
<text transform="translate(104.20,234.90) scale(1,1.05)" y="1.50" font-size="4.2" text-anchor="end" font-weight="normal" fill="#00BFC4" >Obesity grade I</text>
<text transform="translate(114.70,234.90) scale(1,1.05)" y="2.33" font-size="6.5" text-anchor="middle" font-weight="normal" fill="#111" >590</text>
<text transform="translate(136.60,234.90) scale(1,1.05)" y="2.33" font-size="6.5" text-anchor="middle" font-weight="normal" fill="#111" >465</text>
<text transform="translate(158.50,234.90) scale(1,1.05)" y="2.33" font-size="6.5" text-anchor="middle" font-weight="normal" fill="#111" >197</text>
<text transform="translate(180.40,234.90) scale(1,1.05)" y="2.33" font-size="6.5" text-anchor="middle" font-weight="normal" fill="#111" >91</text>
<text transform="translate(202.30,234.90) scale(1,1.05)" y="2.33" font-size="6.5" text-anchor="middle" font-weight="normal" fill="#111" >46</text>
<text transform="translate(224.20,234.90) scale(1,1.05)" y="2.33" font-size="6.5" text-anchor="middle" font-weight="normal" fill="#111" >27</text>
<text transform="translate(246.10,234.90) scale(1,1.05)" y="2.33" font-size="6.5" text-anchor="middle" font-weight="normal" fill="#111" >14</text>
<text transform="translate(268.00,234.90) scale(1,1.05)" y="2.33" font-size="6.5" text-anchor="middle" font-weight="normal" fill="#111" >8</text>
<text transform="translate(104.20,245.30) scale(1,1.05)" y="1.50" font-size="4.2" text-anchor="end" font-weight="normal" fill="#C77CFF" >Obesity grade II and III</text>
<text transform="translate(114.70,245.30) scale(1,1.05)" y="2.33" font-size="6.5" text-anchor="middle" font-weight="normal" fill="#111" >431</text>
<text transform="translate(136.60,245.30) scale(1,1.05)" y="2.33" font-size="6.5" text-anchor="middle" font-weight="normal" fill="#111" >321</text>
<text transform="translate(158.50,245.30) scale(1,1.05)" y="2.33" font-size="6.5" text-anchor="middle" font-weight="normal" fill="#111" >145</text>
<text transform="translate(180.40,245.30) scale(1,1.05)" y="2.33" font-size="6.5" text-anchor="middle" font-weight="normal" fill="#111" >87</text>
<text transform="translate(202.30,245.30) scale(1,1.05)" y="2.33" font-size="6.5" text-anchor="middle" font-weight="normal" fill="#111" >48</text>
<text transform="translate(224.20,245.30) scale(1,1.05)" y="2.33" font-size="6.5" text-anchor="middle" font-weight="normal" fill="#111" >27</text>
<text transform="translate(246.10,245.30) scale(1,1.05)" y="2.33" font-size="6.5" text-anchor="middle" font-weight="normal" fill="#111" >13</text>
<text transform="translate(268.00,245.30) scale(1,1.05)" y="2.33" font-size="6.5" text-anchor="middle" font-weight="normal" fill="#111" >8</text>
<text transform="translate(438.00,201.40) scale(1,1.05)" y="2.26" font-size="6.3" text-anchor="start" font-weight="normal" fill="#000" >Number at risk</text>
<rect x="437.30" y="207.30" width="181.10" height="44.50" fill="#fff" />
<line x1="446.20" y1="207.30" x2="446.20" y2="251.80" stroke="#EBEBEB" stroke-width="0.5" />
<line x1="458.50" y1="207.30" x2="458.50" y2="251.80" stroke="#F4F4F4" stroke-width="0.5" />
<line x1="470.80" y1="207.30" x2="470.80" y2="251.80" stroke="#EBEBEB" stroke-width="0.5" />
<line x1="483.10" y1="207.30" x2="483.10" y2="251.80" stroke="#F4F4F4" stroke-width="0.5" />
<line x1="495.40" y1="207.30" x2="495.40" y2="251.80" stroke="#EBEBEB" stroke-width="0.5" />
<line x1="507.70" y1="207.30" x2="507.70" y2="251.80" stroke="#F4F4F4" stroke-width="0.5" />
<line x1="520.00" y1="207.30" x2="520.00" y2="251.80" stroke="#EBEBEB" stroke-width="0.5" />
<line x1="532.30" y1="207.30" x2="532.30" y2="251.80" stroke="#F4F4F4" stroke-width="0.5" />
<line x1="544.60" y1="207.30" x2="544.60" y2="251.80" stroke="#EBEBEB" stroke-width="0.5" />
<line x1="556.90" y1="207.30" x2="556.90" y2="251.80" stroke="#F4F4F4" stroke-width="0.5" />
<line x1="569.20" y1="207.30" x2="569.20" y2="251.80" stroke="#EBEBEB" stroke-width="0.5" />
<line x1="581.50" y1="207.30" x2="581.50" y2="251.80" stroke="#F4F4F4" stroke-width="0.5" />
<line x1="593.80" y1="207.30" x2="593.80" y2="251.80" stroke="#EBEBEB" stroke-width="0.5" />
<line x1="606.10" y1="207.30" x2="606.10" y2="251.80" stroke="#F4F4F4" stroke-width="0.5" />
<line x1="437.30" y1="213.60" x2="618.40" y2="213.60" stroke="#EBEBEB" stroke-width="0.5" />
<line x1="437.30" y1="224.30" x2="618.40" y2="224.30" stroke="#EBEBEB" stroke-width="0.5" />
<line x1="437.30" y1="234.90" x2="618.40" y2="234.90" stroke="#EBEBEB" stroke-width="0.5" />
<line x1="437.30" y1="245.30" x2="618.40" y2="245.30" stroke="#EBEBEB" stroke-width="0.5" />
<rect x="437.30" y="207.30" width="181.10" height="44.50" fill="none" stroke="#E0E0E0" stroke-width="0.6"/>
<text transform="translate(435.80,213.60) scale(1,1.05)" y="1.50" font-size="4.2" text-anchor="end" font-weight="normal" fill="#F8766D" >Normal BMI</text>
<text transform="translate(446.20,213.60) scale(1,1.05)" y="2.33" font-size="6.5" text-anchor="middle" font-weight="normal" fill="#111" >1728</text>
<text transform="translate(470.80,213.60) scale(1,1.05)" y="2.33" font-size="6.5" text-anchor="middle" font-weight="normal" fill="#111" >482</text>
<text transform="translate(495.40,213.60) scale(1,1.05)" y="2.33" font-size="6.5" text-anchor="middle" font-weight="normal" fill="#111" >298</text>
<text transform="translate(520.00,213.60) scale(1,1.05)" y="2.33" font-size="6.5" text-anchor="middle" font-weight="normal" fill="#111" >264</text>
<text transform="translate(544.60,213.60) scale(1,1.05)" y="2.33" font-size="6.5" text-anchor="middle" font-weight="normal" fill="#111" >255</text>
<text transform="translate(569.20,213.60) scale(1,1.05)" y="2.33" font-size="6.5" text-anchor="middle" font-weight="normal" fill="#111" >247</text>
<text transform="translate(593.80,213.60) scale(1,1.05)" y="2.33" font-size="6.5" text-anchor="middle" font-weight="normal" fill="#111" >246</text>
<text transform="translate(435.80,224.30) scale(1,1.05)" y="1.50" font-size="4.2" text-anchor="end" font-weight="normal" fill="#7CAE00" >Overweight</text>
<text transform="translate(446.20,224.30) scale(1,1.05)" y="2.33" font-size="6.5" text-anchor="middle" font-weight="normal" fill="#111" >1395</text>
<text transform="translate(470.80,224.30) scale(1,1.05)" y="2.33" font-size="6.5" text-anchor="middle" font-weight="normal" fill="#111" >425</text>
<text transform="translate(495.40,224.30) scale(1,1.05)" y="2.33" font-size="6.5" text-anchor="middle" font-weight="normal" fill="#111" >266</text>
<text transform="translate(520.00,224.30) scale(1,1.05)" y="2.33" font-size="6.5" text-anchor="middle" font-weight="normal" fill="#111" >234</text>
<text transform="translate(544.60,224.30) scale(1,1.05)" y="2.33" font-size="6.5" text-anchor="middle" font-weight="normal" fill="#111" >225</text>
<text transform="translate(569.20,224.30) scale(1,1.05)" y="2.33" font-size="6.5" text-anchor="middle" font-weight="normal" fill="#111" >224</text>
<text transform="translate(593.80,224.30) scale(1,1.05)" y="2.33" font-size="6.5" text-anchor="middle" font-weight="normal" fill="#111" >224</text>
<text transform="translate(435.80,234.90) scale(1,1.05)" y="1.50" font-size="4.2" text-anchor="end" font-weight="normal" fill="#00BFC4" >Obesity grade I</text>
<text transform="translate(446.20,234.90) scale(1,1.05)" y="2.33" font-size="6.5" text-anchor="middle" font-weight="normal" fill="#111" >590</text>
<text transform="translate(470.80,234.90) scale(1,1.05)" y="2.33" font-size="6.5" text-anchor="middle" font-weight="normal" fill="#111" >183</text>
<text transform="translate(495.40,234.90) scale(1,1.05)" y="2.33" font-size="6.5" text-anchor="middle" font-weight="normal" fill="#111" >110</text>
<text transform="translate(520.00,234.90) scale(1,1.05)" y="2.33" font-size="6.5" text-anchor="middle" font-weight="normal" fill="#111" >96</text>
<text transform="translate(544.60,234.90) scale(1,1.05)" y="2.33" font-size="6.5" text-anchor="middle" font-weight="normal" fill="#111" >95</text>
<text transform="translate(569.20,234.90) scale(1,1.05)" y="2.33" font-size="6.5" text-anchor="middle" font-weight="normal" fill="#111" >93</text>
<text transform="translate(593.80,234.90) scale(1,1.05)" y="2.33" font-size="6.5" text-anchor="middle" font-weight="normal" fill="#111" >93</text>
<text transform="translate(435.80,245.30) scale(1,1.05)" y="1.50" font-size="4.2" text-anchor="end" font-weight="normal" fill="#C77CFF" >Obesity grade II and III</text>
<text transform="translate(446.20,245.30) scale(1,1.05)" y="2.33" font-size="6.5" text-anchor="middle" font-weight="normal" fill="#111" >431</text>
<text transform="translate(470.80,245.30) scale(1,1.05)" y="2.33" font-size="6.5" text-anchor="middle" font-weight="normal" fill="#111" >147</text>
<text transform="translate(495.40,245.30) scale(1,1.05)" y="2.33" font-size="6.5" text-anchor="middle" font-weight="normal" fill="#111" >82</text>
<text transform="translate(520.00,245.30) scale(1,1.05)" y="2.33" font-size="6.5" text-anchor="middle" font-weight="normal" fill="#111" >71</text>
<text transform="translate(544.60,245.30) scale(1,1.05)" y="2.33" font-size="6.5" text-anchor="middle" font-weight="normal" fill="#111" >68</text>
<text transform="translate(569.20,245.30) scale(1,1.05)" y="2.33" font-size="6.5" text-anchor="middle" font-weight="normal" fill="#111" >68</text>
<text transform="translate(593.80,245.30) scale(1,1.05)" y="2.33" font-size="6.5" text-anchor="middle" font-weight="normal" fill="#111" >68</text>
<rect x="40.90" y="300.00" width="232.70" height="174.00" fill="#EBEBEB" />
<line x1="40.90" y1="446.69" x2="273.60" y2="446.69" stroke="#fff" stroke-width="0.5" />
<line x1="40.90" y1="407.06" x2="273.60" y2="407.06" stroke="#fff" stroke-width="0.5" />
<line x1="40.90" y1="367.44" x2="273.60" y2="367.44" stroke="#fff" stroke-width="0.5" />
<line x1="40.90" y1="327.81" x2="273.60" y2="327.81" stroke="#fff" stroke-width="0.5" />
<line x1="40.90" y1="466.50" x2="273.60" y2="466.50" stroke="#fff" stroke-width="1.0" />
<line x1="40.90" y1="426.88" x2="273.60" y2="426.88" stroke="#fff" stroke-width="1.0" />
<line x1="40.90" y1="387.25" x2="273.60" y2="387.25" stroke="#fff" stroke-width="1.0" />
<line x1="40.90" y1="347.62" x2="273.60" y2="347.62" stroke="#fff" stroke-width="1.0" />
<line x1="40.90" y1="308.00" x2="273.60" y2="308.00" stroke="#fff" stroke-width="1.0" />
<line x1="74.00" y1="300.00" x2="74.00" y2="474.00" stroke="#fff" stroke-width="1.0" />
<line x1="129.60" y1="300.00" x2="129.60" y2="474.00" stroke="#fff" stroke-width="1.0" />
<line x1="185.00" y1="300.00" x2="185.00" y2="474.00" stroke="#fff" stroke-width="1.0" />
<line x1="240.40" y1="300.00" x2="240.40" y2="474.00" stroke="#fff" stroke-width="1.0" />
<rect x="49.00" y="443.99" width="50.00" height="22.51" fill="#C77CFF" />
<rect x="49.00" y="428.94" width="50.00" height="15.06" fill="#00BFC4" />
<rect x="49.00" y="412.77" width="50.00" height="16.17" fill="#7CAE00" />
<rect x="49.00" y="308.00" width="50.00" height="104.77" fill="#F8766D" />
<rect x="104.60" y="440.82" width="50.00" height="25.68" fill="#C77CFF" />
<rect x="104.60" y="424.97" width="50.00" height="15.85" fill="#00BFC4" />
<rect x="104.60" y="408.01" width="50.00" height="16.96" fill="#7CAE00" />
<rect x="104.60" y="308.00" width="50.00" height="100.01" fill="#F8766D" />
<rect x="160.00" y="441.30" width="50.00" height="25.20" fill="#C77CFF" />
<rect x="160.00" y="425.92" width="50.00" height="15.37" fill="#00BFC4" />
<rect x="160.00" y="410.07" width="50.00" height="15.85" fill="#7CAE00" />
<rect x="160.00" y="308.00" width="50.00" height="102.07" fill="#F8766D" />
<rect x="215.40" y="441.30" width="50.00" height="25.20" fill="#C77CFF" />
<rect x="215.40" y="424.97" width="50.00" height="16.33" fill="#00BFC4" />
<rect x="215.40" y="412.29" width="50.00" height="12.68" fill="#7CAE00" />
<rect x="215.40" y="308.00" width="50.00" height="104.29" fill="#F8766D" />
<line x1="38.70" y1="466.50" x2="40.90" y2="466.50" stroke="#333" stroke-width="0.5" />
<text transform="translate(38.30,466.50) scale(1,1.0)" y="2.08" font-size="5.8" text-anchor="end" fill="#4D4D4D">0.00</text>
<line x1="38.70" y1="426.88" x2="40.90" y2="426.88" stroke="#333" stroke-width="0.5" />
<text transform="translate(38.30,426.88) scale(1,1.0)" y="2.08" font-size="5.8" text-anchor="end" fill="#4D4D4D">0.25</text>
<line x1="38.70" y1="387.25" x2="40.90" y2="387.25" stroke="#333" stroke-width="0.5" />
<text transform="translate(38.30,387.25) scale(1,1.0)" y="2.08" font-size="5.8" text-anchor="end" fill="#4D4D4D">0.50</text>
<line x1="38.70" y1="347.62" x2="40.90" y2="347.62" stroke="#333" stroke-width="0.5" />
<text transform="translate(38.30,347.62) scale(1,1.0)" y="2.08" font-size="5.8" text-anchor="end" fill="#4D4D4D">0.75</text>
<line x1="38.70" y1="308.00" x2="40.90" y2="308.00" stroke="#333" stroke-width="0.5" />
<text transform="translate(38.30,308.00) scale(1,1.0)" y="2.08" font-size="5.8" text-anchor="end" fill="#4D4D4D">1.00</text>
<line x1="74.00" y1="474.00" x2="74.00" y2="476.20" stroke="#333" stroke-width="0.5" />
<text transform="translate(74.50,478.80) scale(1,1.0) rotate(-45)" font-size="5.6" text-anchor="end" fill="#4D4D4D" y="3.92">Normal BMI</text>
<line x1="129.60" y1="474.00" x2="129.60" y2="476.20" stroke="#333" stroke-width="0.5" />
<text transform="translate(130.10,478.80) scale(1,1.0) rotate(-45)" font-size="5.6" text-anchor="end" fill="#4D4D4D" y="3.92">Overweight</text>
<line x1="185.00" y1="474.00" x2="185.00" y2="476.20" stroke="#333" stroke-width="0.5" />
<text transform="translate(185.50,478.80) scale(1,1.0) rotate(-45)" font-size="5.6" text-anchor="end" fill="#4D4D4D" y="3.92">Obesity grade I</text>
<line x1="240.40" y1="474.00" x2="240.40" y2="476.20" stroke="#333" stroke-width="0.5" />
<text transform="translate(240.90,478.80) scale(1,1.0) rotate(-45)" font-size="5.6" text-anchor="end" fill="#4D4D4D" y="3.92">Obesity grade II and III</text>
<text transform="translate(157.20,526.30) scale(1,1.0)" y="2.54" font-size="7.1" text-anchor="middle" fill="#000">BMI categories</text>
<text transform="translate(21.1,387.0) scale(1,1.0) rotate(-90)" font-size="6.9" text-anchor="middle" y="2.42">Proportion</text>
<text x="284.30" y="366.14" font-size="7.1" text-anchor="start" font-weight="normal" fill="#000" >weaning duration</text>
<rect x="284.70" y="370.00" width="10.60" height="10.70" fill="#F8766D" />
<text x="299.40" y="377.95" font-size="5.6" text-anchor="start" font-weight="normal" fill="#000" >0-1 days</text>
<rect x="284.70" y="381.30" width="10.60" height="10.70" fill="#7CAE00" />
<text x="299.40" y="389.25" font-size="5.6" text-anchor="start" font-weight="normal" fill="#000" >2-6 days</text>
<rect x="284.70" y="392.60" width="10.60" height="10.70" fill="#00BFC4" />
<text x="299.40" y="400.55" font-size="5.6" text-anchor="start" font-weight="normal" fill="#000" >7+ days</text>
<rect x="284.70" y="403.90" width="10.60" height="10.70" fill="#C77CFF" />
<text x="299.40" y="411.85" font-size="5.6" text-anchor="start" font-weight="normal" fill="#000" >Failed wean</text>
<rect x="378.20" y="303.00" width="218.20" height="161.50" fill="#EBEBEB" />
<line x1="378.20" y1="439.27" x2="596.40" y2="439.27" stroke="#fff" stroke-width="0.5" />
<line x1="378.20" y1="402.42" x2="596.40" y2="402.42" stroke="#fff" stroke-width="0.5" />
<line x1="378.20" y1="365.57" x2="596.40" y2="365.57" stroke="#fff" stroke-width="0.5" />
<line x1="378.20" y1="328.73" x2="596.40" y2="328.73" stroke="#fff" stroke-width="0.5" />
<line x1="378.20" y1="457.70" x2="596.40" y2="457.70" stroke="#fff" stroke-width="1.0" />
<line x1="378.20" y1="420.85" x2="596.40" y2="420.85" stroke="#fff" stroke-width="1.0" />
<line x1="378.20" y1="384.00" x2="596.40" y2="384.00" stroke="#fff" stroke-width="1.0" />
<line x1="378.20" y1="347.15" x2="596.40" y2="347.15" stroke="#fff" stroke-width="1.0" />
<line x1="378.20" y1="310.30" x2="596.40" y2="310.30" stroke="#fff" stroke-width="1.0" />
<line x1="409.10" y1="303.00" x2="409.10" y2="464.50" stroke="#fff" stroke-width="1.0" />
<line x1="461.20" y1="303.00" x2="461.20" y2="464.50" stroke="#fff" stroke-width="1.0" />
<line x1="513.00" y1="303.00" x2="513.00" y2="464.50" stroke="#fff" stroke-width="1.0" />
<line x1="565.20" y1="303.00" x2="565.20" y2="464.50" stroke="#fff" stroke-width="1.0" />
<rect x="385.90" y="430.73" width="46.40" height="26.97" fill="#619CFF" />
<rect x="385.90" y="405.52" width="46.40" height="25.21" fill="#00BA38" />
<rect x="385.90" y="310.30" width="46.40" height="95.22" fill="#F8766D" />
<rect x="438.00" y="423.36" width="46.40" height="34.34" fill="#619CFF" />
<rect x="438.00" y="399.33" width="46.40" height="24.03" fill="#00BA38" />
<rect x="438.00" y="310.30" width="46.40" height="89.03" fill="#F8766D" />
<rect x="489.80" y="423.95" width="46.40" height="33.75" fill="#619CFF" />
<rect x="489.80" y="395.64" width="46.40" height="28.30" fill="#00BA38" />
<rect x="489.80" y="310.30" width="46.40" height="85.34" fill="#F8766D" />
<rect x="542.00" y="402.87" width="46.40" height="54.83" fill="#619CFF" />
<rect x="542.00" y="375.16" width="46.40" height="27.71" fill="#00BA38" />
<rect x="542.00" y="310.30" width="46.40" height="64.86" fill="#F8766D" />
<line x1="376.00" y1="457.70" x2="378.20" y2="457.70" stroke="#333" stroke-width="0.5" />
<text transform="translate(374.60,457.70) scale(1,1.1)" y="2.08" font-size="5.8" text-anchor="end" fill="#4D4D4D">0.00</text>
<line x1="376.00" y1="420.85" x2="378.20" y2="420.85" stroke="#333" stroke-width="0.5" />
<text transform="translate(374.60,420.85) scale(1,1.1)" y="2.08" font-size="5.8" text-anchor="end" fill="#4D4D4D">0.25</text>
<line x1="376.00" y1="384.00" x2="378.20" y2="384.00" stroke="#333" stroke-width="0.5" />
<text transform="translate(374.60,384.00) scale(1,1.1)" y="2.08" font-size="5.8" text-anchor="end" fill="#4D4D4D">0.50</text>
<line x1="376.00" y1="347.15" x2="378.20" y2="347.15" stroke="#333" stroke-width="0.5" />
<text transform="translate(374.60,347.15) scale(1,1.1)" y="2.08" font-size="5.8" text-anchor="end" fill="#4D4D4D">0.75</text>
<line x1="376.00" y1="310.30" x2="378.20" y2="310.30" stroke="#333" stroke-width="0.5" />
<text transform="translate(374.60,310.30) scale(1,1.1)" y="2.08" font-size="5.8" text-anchor="end" fill="#4D4D4D">1.00</text>
<line x1="409.10" y1="464.50" x2="409.10" y2="466.70" stroke="#333" stroke-width="0.5" />
<text transform="translate(410.10,469.30) scale(1,1.13) rotate(-45)" font-size="5.9" text-anchor="end" fill="#4D4D4D" y="4.13">Normal BMI</text>
<line x1="461.20" y1="464.50" x2="461.20" y2="466.70" stroke="#333" stroke-width="0.5" />
<text transform="translate(462.20,469.30) scale(1,1.13) rotate(-45)" font-size="5.9" text-anchor="end" fill="#4D4D4D" y="4.13">Overweight</text>
<line x1="513.00" y1="464.50" x2="513.00" y2="466.70" stroke="#333" stroke-width="0.5" />
<text transform="translate(514.00,469.30) scale(1,1.13) rotate(-45)" font-size="5.9" text-anchor="end" fill="#4D4D4D" y="4.13">Obesity grade 1</text>
<line x1="565.20" y1="464.50" x2="565.20" y2="466.70" stroke="#333" stroke-width="0.5" />
<text transform="translate(566.20,469.30) scale(1,1.13) rotate(-45)" font-size="5.9" text-anchor="end" fill="#4D4D4D" y="4.13">Obesity grade 2 and 3</text>
<text transform="translate(487.30,525.10) scale(1,1.1)" y="2.54" font-size="7.1" text-anchor="middle" fill="#000">BMI</text>
<text transform="translate(357.9,383.6) scale(1,1.1) rotate(-90)" font-size="7.0" text-anchor="middle" y="2.45">Proportion</text>
<text transform="translate(606.9,364.5) scale(1,1.1)" y="2.51" font-size="7.0">Highest support type</text>
<rect x="606.80" y="371.80" width="11.10" height="11.20" fill="#F8766D" />
<text transform="translate(622,378.00) scale(1,1.1)" y="2.06" font-size="5.75">Low Flow Oxygen</text>
<rect x="606.80" y="384.40" width="11.10" height="11.20" fill="#00BA38" />
<text transform="translate(622,390.60) scale(1,1.1)" y="2.06" font-size="5.75">High Flow Oxygen</text>
<rect x="606.80" y="397.00" width="11.10" height="11.20" fill="#619CFF" />
<text transform="translate(622,403.20) scale(1,1.1)" y="2.06" font-size="5.75">Non-invasive ventilation</text>
</svg>
</body></html>
